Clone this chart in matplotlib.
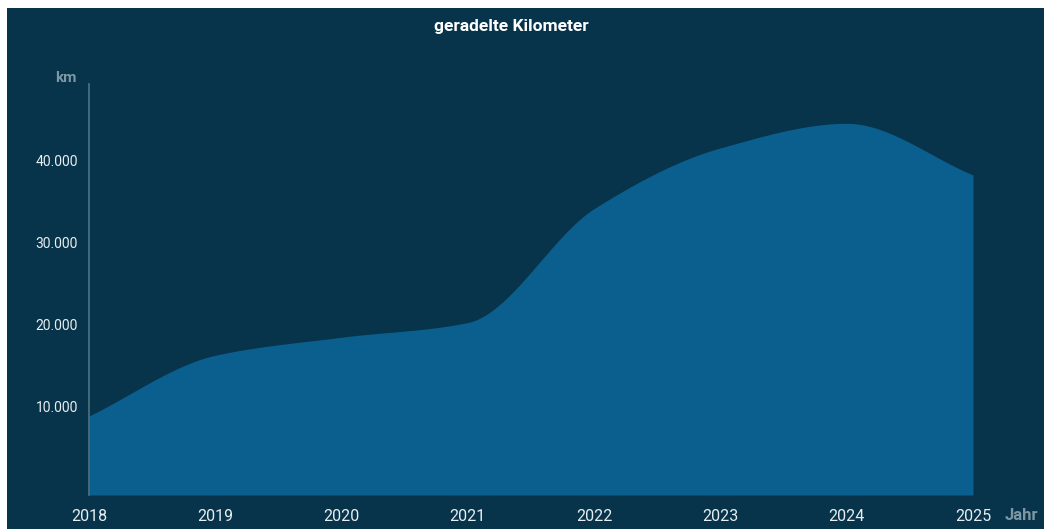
import matplotlib
matplotlib.use("Agg")
import matplotlib.pyplot as plt
import numpy as np
from matplotlib.patches import Rectangle

years = [2018, 2019, 2020, 2021, 2022, 2023, 2024, 2025]
km = [8800, 16200, 18400, 20200, 34100, 41500, 44500, 38200]
yticks = [10000, 20000, 30000, 40000]
ylabels = ["10.000", "20.000", "30.000", "40.000"]

bg = "#07344a"
fill_col = "#0a5f8e"

plt.rcParams["font.family"] = ["Roboto", "DejaVu Sans"]


def monotone(x, y, n=400):
    # Fritsch-Carlson monotone cubic, only for drawing a smooth edge
    x = np.asarray(x, float)
    y = np.asarray(y, float)
    h = np.diff(x)
    d = np.diff(y) / h
    m = np.zeros_like(y)
    m[0], m[-1] = d[0], d[-1]
    for i in range(1, len(y) - 1):
        if d[i - 1] * d[i] <= 0:
            m[i] = 0
        else:
            m[i] = 2 / (1 / d[i - 1] + 1 / d[i])
    xs, ys = [], []
    for i in range(len(h)):
        t = np.linspace(0, 1, n // len(h), endpoint=(i == len(h) - 1))
        h00 = 2 * t**3 - 3 * t**2 + 1
        h10 = t**3 - 2 * t**2 + t
        h01 = -2 * t**3 + 3 * t**2
        h11 = t**3 - t**2
        xs.append(x[i] + t * h[i])
        ys.append(h00 * y[i] + h10 * h[i] * m[i] + h01 * y[i + 1] + h11 * h[i] * m[i + 1])
    return np.concatenate(xs), np.concatenate(ys)


fig = plt.figure(figsize=(10.44, 5.29), dpi=100)
fig.patch.set_facecolor("white")
fig.patches.append(Rectangle((7 / 1044, 0), 1, 1 - 8 / 529, transform=fig.transFigure,
                             facecolor=bg, edgecolor="none", zorder=-10))

ax = fig.add_axes([89 / 1044, 34 / 529, 884 / 1044, 411 / 529])
ax.set_zorder(1)
ax.patch.set_visible(False)

sx, sy = monotone(years, km)
ax.fill_between(sx, sy, -850, color=fill_col, linewidth=0)

ax.set_xlim(2018, 2025)
ax.set_ylim(-850, 49300)
ax.set_xticks(years)
ax.set_xticklabels([str(y) for y in years])
ax.set_yticks(yticks)
ax.set_yticklabels(ylabels)

for s in ["top", "right", "bottom"]:
    ax.spines[s].set_visible(False)
ax.spines["left"].set_color("#4d7285")
ax.spines["left"].set_linewidth(1.2)

ax.tick_params(axis="y", length=0, pad=8, labelsize=10, labelcolor="#e8eef1")
ax.tick_params(axis="x", length=0, pad=10, labelsize=11.5, labelcolor="#e8eef1")

fig.text(511 / 1044, 1 - 27 / 529, "geradelte Kilometer", color="white",
         fontsize=12.5, fontweight="bold", ha="center", va="center")
fig.text(77 / 1044, 1 - 78 / 529, "km", color="#7e97a4", fontsize=11,
         fontweight="bold", ha="right", va="center")
fig.text(1005 / 1044, 1 - 515 / 529, "Jahr", color="#7e97a4", fontsize=12,
         fontweight="bold", ha="left", va="center")

fig.savefig("out.png", dpi=100, facecolor=fig.get_facecolor())
